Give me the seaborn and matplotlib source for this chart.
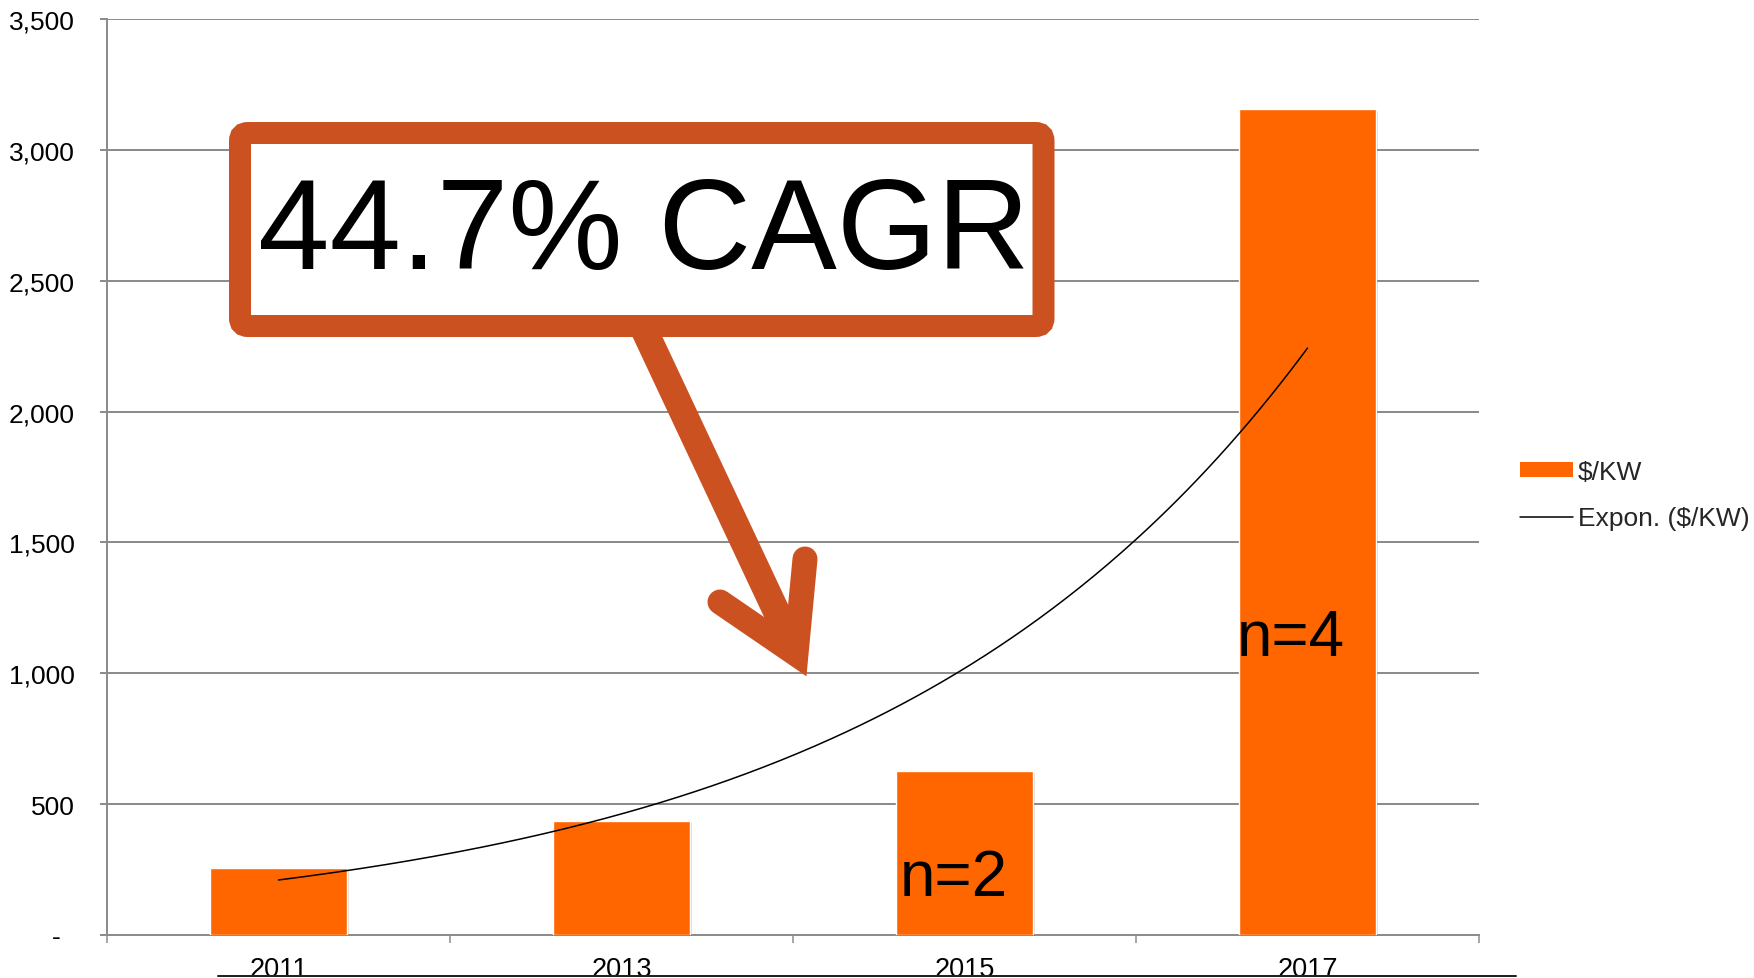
import numpy as np
import pandas as pd
import matplotlib
matplotlib.use("Agg")
import matplotlib.pyplot as plt
import seaborn as sns
from matplotlib.patches import Patch, FancyBboxPatch
from matplotlib.lines import Line2D
import matplotlib.patheffects as pe

# ---------------- data ----------------
years = ["2011", "2013", "2015", "2017"]
usd_per_kw = [257, 436, 628, 3158]
n_label_years = ["2015", "2017"]
n_label_texts = ["n=2", "n=4"]
y_ticks = [0, 500, 1000, 1500, 2000, 2500, 3000, 3500]
y_tick_labels = ["-  ", "500", "1,000", "1,500", "2,000", "2,500", "3,000", "3,500"]
callout_text = "44.7% CAGR"
series_label = "$/KW"
trend_label = "Expon. ($/KW)"

# ---------------- style ----------------
W, H, DPI = 1754, 979, 100
BAR = "#FF6600"
CALL = "#CB5121"
GRID = "#8C8C8C"
PX = 72.0 / DPI  # points per pixel

sns.set_theme(style="white")
plt.rcParams["font.family"] = ["Liberation Sans", "DejaVu Sans"]
plt.rcParams["text.parse_math"] = False

fig = plt.figure(figsize=(W / DPI, H / DPI), dpi=DPI)
fig.patch.set_facecolor("white")

ax = fig.add_axes([107 / W, 1 - 936 / H, 1372 / W, 916 / H])
df = pd.DataFrame({"year": years, "value": usd_per_kw})
sns.barplot(data=df, x="year", y="value", order=years, width=0.4,
            color=BAR, saturation=1, ax=ax, zorder=3)
for p in ax.patches:
    p.set_path_effects([pe.SimplePatchShadow(offset=(1.5, -1.5), alpha=0.15,
                                             shadow_rgbFace="black"), pe.Normal()])

# exponential trendline fitted to the bar values
xi = np.arange(len(usd_per_kw))
coef = np.polyfit(xi, np.log(usd_per_kw), 1)
xs = np.linspace(0, len(usd_per_kw) - 1, 300)
ax.plot(xs, np.exp(coef[1] + coef[0] * xs), color="black", lw=1.1, zorder=4)

# n labels inside bars
for yr, txt, off, base in zip(n_label_years, n_label_texts, [-0.03, -0.048], [153, 1069]):
    ax.text(years.index(yr) + off, base, txt, ha="center", va="baseline",
            fontsize=46, color="black", zorder=5)

ax.set_xlim(-0.5, len(years) - 0.5)
ax.set_ylim(0, 3500)
ax.set_xlabel("")
ax.set_ylabel("")
ax.set_yticks(y_ticks)
ax.set_yticklabels(y_tick_labels)
ax.set_xticks(np.arange(len(years) + 1) - 0.5)
ax.set_xticklabels([])
ax.set_xticks(np.arange(len(years)), minor=True)
ax.set_xticklabels(years, minor=True)
ax.tick_params(axis="y", direction="out", length=7 * PX, width=2 * PX, color=GRID,
               labelsize=19, pad=25 * PX, left=True, labelcolor="black")
ax.tick_params(axis="x", which="major", direction="out", length=8 * PX, width=1.5 * PX,
               color=GRID, bottom=True)
ax.tick_params(axis="x", which="minor", length=0, labelsize=19.5, pad=21 * PX,
               labelcolor="black")
ax.grid(axis="y", color=GRID, lw=2 * PX, zorder=0)
ax.set_axisbelow(True)
for s in ["top", "right"]:
    ax.spines[s].set_visible(False)
for s in ["left", "bottom"]:
    ax.spines[s].set_color(GRID)
    ax.spines[s].set_linewidth(2 * PX)

# legend
handles = [Patch(facecolor=BAR, edgecolor="none"), Line2D([], [], color="black", lw=1.1)]
fig.legend(handles, [series_label, trend_label], loc="upper left",
           bbox_to_anchor=(1520 / W, 1 - 461 / H), frameon=False, fontsize=19,
           handlelength=2.0, handleheight=0.5, handletextpad=0.2, labelspacing=0.85,
           borderpad=0, borderaxespad=0)

# ---------------- callout overlay (pixel coordinates) ----------------
ov = fig.add_axes([0, 0, 1, 1], zorder=5)
ov.set_xlim(0, W)
ov.set_ylim(H, 0)
ov.axis("off")
ov.patch.set_alpha(0)

ov.plot([643.8, 794], [330, 650], color=CALL, lw=27 * PX, solid_capstyle="butt")
ov.plot([720, 796, 805], [603, 655, 560], color=CALL, lw=25 * PX,
        solid_joinstyle="miter", solid_capstyle="round")
box = FancyBboxPatch((240, 134), 1043.5 - 240, 327 - 134,
                     boxstyle="round,pad=0,rounding_size=8",
                     lw=22 * PX, ec=CALL, fc="white")
ov.add_patch(box)
ov.text(644, 269, callout_text, ha="center", va="baseline", fontsize=92.5, color="black")

ov.plot([218, 1516], [977, 977], color="#222222", lw=2 * PX)

fig.savefig("out.png", dpi=DPI, facecolor="white")
